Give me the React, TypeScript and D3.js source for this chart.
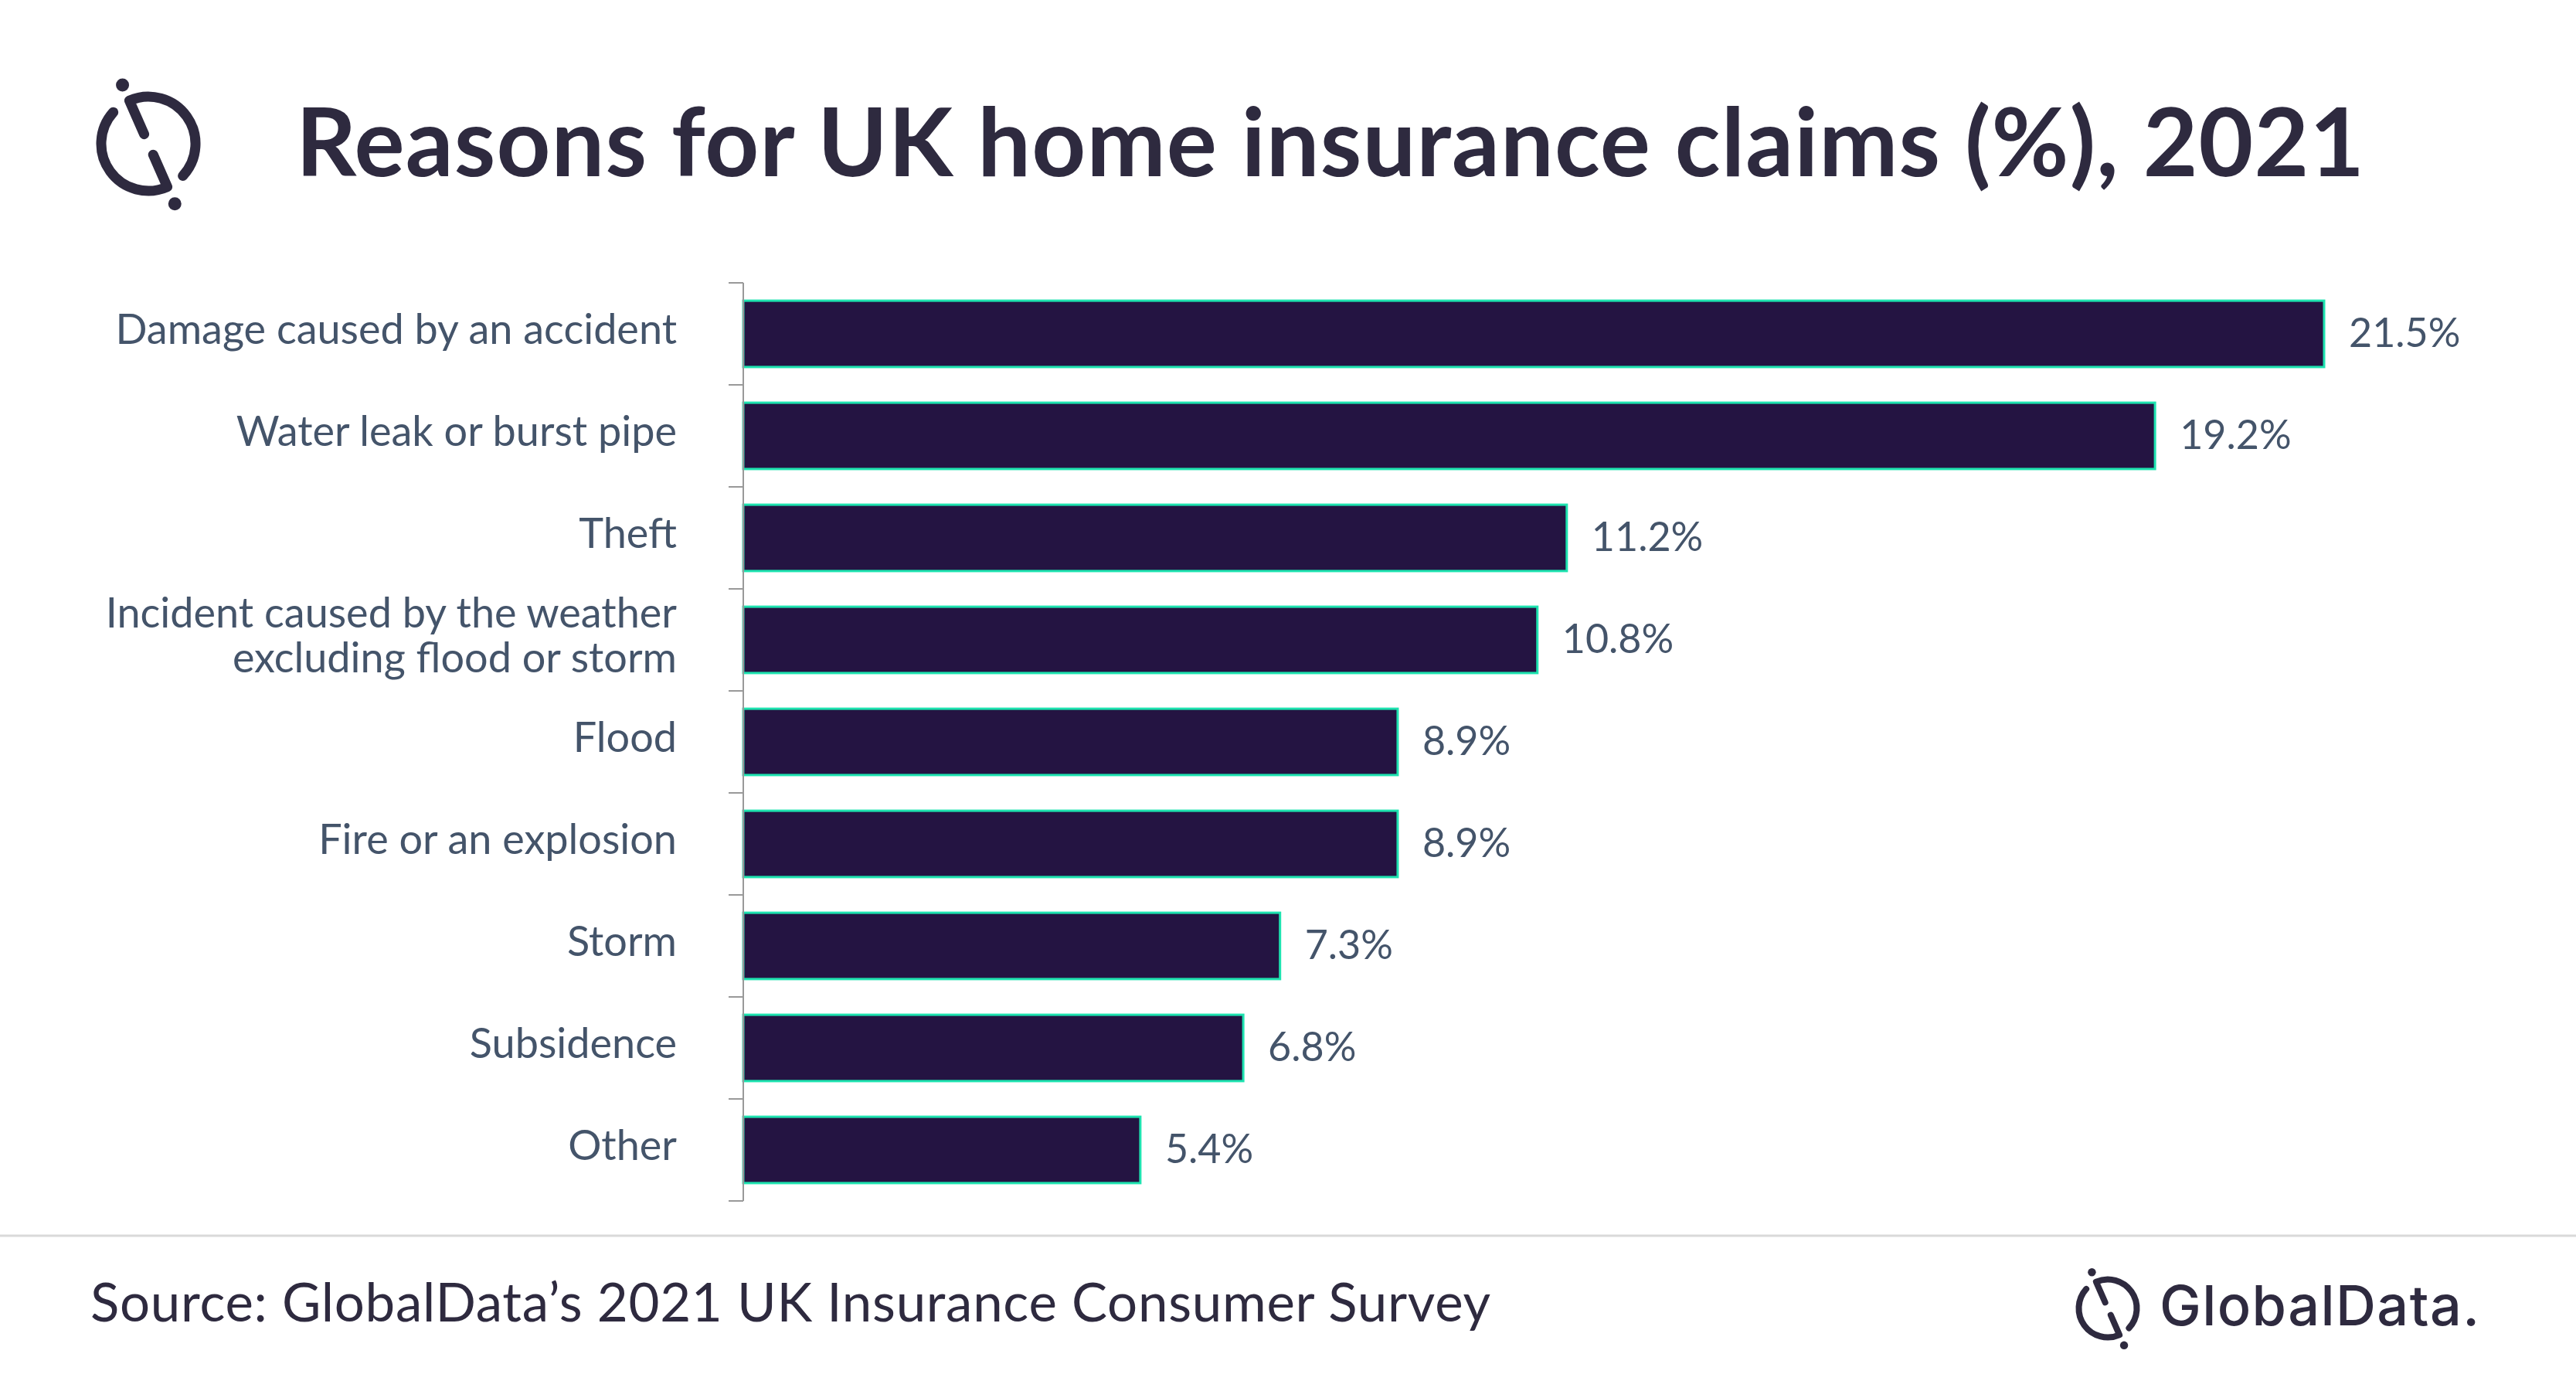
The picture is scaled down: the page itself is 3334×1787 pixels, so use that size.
import React, { useEffect } from "react";
import * as d3 from "d3";

const categories = [
  "Damage caused by an accident",
  "Water leak or burst pipe",
  "Theft",
  "Incident caused by the weather|excluding flood or storm",
  "Flood",
  "Fire or an explosion",
  "Storm",
  "Subsidence",
  "Other",
];
const values = [21.5, 19.2, 11.2, 10.8, 8.9, 8.9, 7.3, 6.8, 5.4];
const title = "Reasons for UK home insurance claims (%), 2021";
const source = "Source: GlobalData\u2019s 2021 UK Insurance Consumer Survey";
const brand = "GlobalData.";

const W = 3334;
const H = 1787;
const DARK = "#2e2a3f";
const TEXT = "#44546a";
const BAR = "#241442";
const BAR_STROKE = "#1ee3b0";
const FONT = "Lato, 'Open Sans', sans-serif";

function Logo({ cx, cy, s }: { cx: number; cy: number; s: number }) {
  const r = 61 * s;
  const sw = 13 * s;
  const th = Math.atan2(0.915, 0.403);
  const dx = Math.cos(th);
  const dy = Math.sin(th);
  const pt = (t: number) => `${cx + dx * t * s},${cy + dy * t * s}`;
  const ap = (deg: number) => {
    const a = (deg * Math.PI) / 180;
    return `${cx + r * Math.cos(a)},${cy + r * Math.sin(a)}`;
  };
  const upper = `M${pt(-13.5)} L${pt(-61)} A${r},${r} 0 0 1 ${ap(43)}`;
  const lower = `M${pt(15.5)} L${pt(61)} A${r},${r} 0 0 1 ${ap(222)}`;
  const p1 = pt(-83).split(",").map(Number);
  const p2 = pt(85).split(",").map(Number);
  return (
    <g fill="none" stroke={DARK} strokeWidth={sw} strokeLinecap="round" strokeLinejoin="round">
      <path d={upper} />
      <path d={lower} />
      <circle cx={p1[0]} cy={p1[1]} r={8.5 * s} fill={DARK} stroke="none" />
      <circle cx={p2[0]} cy={p2[1]} r={8.5 * s} fill={DARK} stroke="none" />
    </g>
  );
}

export default function App() {
  useEffect(() => {
    document.body.style.margin = "0";
  }, []);

  const x = d3.scaleLinear().domain([0, 21.5]).range([962, 3008]);
  const y = d3
    .scaleBand<string>()
    .domain(categories)
    .range([366, 1554])
    .paddingInner(0.35)
    .paddingOuter(0.175);
  const gap = (y.step() * y.paddingInner()) / 2;
  const boundaries = categories.map((c) => (y(c) as number) - gap);
  boundaries.push((y(categories[categories.length - 1]) as number) + y.bandwidth() + gap);

  return (
    <svg
      width={W}
      height={H}
      viewBox={`0 0 ${W} ${H}`}
      style={{ position: "absolute", left: 0, top: 0, background: "#fff" }}
    >
      <rect x={0} y={0} width={W} height={H} fill="#fff" />
      <Logo cx={192} cy={186} s={1} />
      <text
        x={383}
        y={228}
        fontFamily={FONT}
        fontWeight={700}
        fontSize={122}
        fill={DARK}
        textLength={2677}
        lengthAdjust="spacing"
      >
        {title}
      </text>

      {categories.map((c, i) => {
        const yc = (y(c) as number) + y.bandwidth() / 2;
        return (
          <g key={c}>
            <rect
              x={x(0)}
              y={y(c)}
              width={x(values[i]) - x(0)}
              height={y.bandwidth()}
              fill={BAR}
              stroke={BAR_STROKE}
              strokeWidth={3}
            />
            <text
              x={x(values[i]) + 32}
              y={yc + 17}
              fontFamily={FONT}
              fontSize={52}
              fill={TEXT}
            >
              {values[i].toFixed(1) + "%"}
            </text>
          </g>
        );
      })}

      <line x1={962} x2={962} y1={boundaries[0]} y2={boundaries[boundaries.length - 1]} stroke="#999" strokeWidth={2} />
      {boundaries.map((b, i) => (
        <line key={i} x1={943} x2={962} y1={b} y2={b} stroke="#999" strokeWidth={2} />
      ))}

      {categories.map((c) => {
        const yc = (y(c) as number) + y.bandwidth() / 2;
        const lines = c.split("|");
        const lh = 58;
        const y0 = yc + 13 - ((lines.length - 1) * lh) / 2;
        return (
          <text key={c} textAnchor="end" fontFamily={FONT} fontSize={54} fill={TEXT}>
            {lines.map((l, j) => (
              <tspan key={j} x={876} y={y0 + j * lh}>
                {l}
              </tspan>
            ))}
          </text>
        );
      })}

      <line x1={0} x2={W} y1={1599} y2={1599} stroke="#d9d9d9" strokeWidth={3} />

      <text
        x={117}
        y={1710}
        fontFamily={FONT}
        fontSize={69}
        fill={DARK}
        textLength={1812}
        lengthAdjust="spacing"
      >
        {source}
      </text>

      <Logo cx={2728} cy={1693} s={0.615} />
      <text
        x={2795}
        y={1715}
        fontFamily="Inter, sans-serif"
        fontWeight={500}
        fontSize={72}
        fill={DARK}
        textLength={414}
        lengthAdjust="spacing"
      >
        {brand}
      </text>
    </svg>
  );
}
